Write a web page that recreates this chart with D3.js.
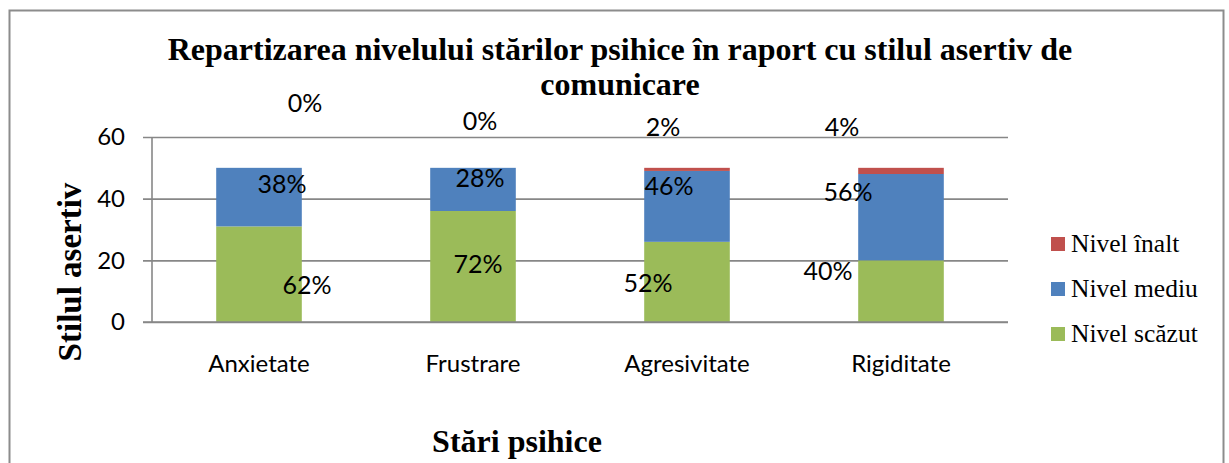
<!DOCTYPE html>
<html>
<head>
<meta charset="utf-8">
<script src="https://cdn.jsdelivr.net/npm/d3@7"></script>
<style>
  body { margin: 0; background: #fff; }
  svg { display: block; }
</style>
</head>
<body>
<div class="panel"></div>
<script>

const categories = ["Anxietate", "Frustrare", "Agresivitate", "Rigiditate"];
const nivelScazut = [31, 36, 26, 20];
const nivelMediu = [19, 14, 23, 28];
const nivelInalt = [0, 0, 1, 2];
const seriesNames = ["Nivel scăzut", "Nivel mediu", "Nivel înalt"];
const yTicks = [0, 20, 40, 60];
const titleLines = ["Repartizarea nivelului stărilor psihice în raport cu stilul asertiv de", "comunicare"];

drawChart();

function drawChart() {

    const width = 1229, height = 463;
    const colors = ["#9BBB59", "#4F81BD", "#C0504D"];
    const gridColor = "#878787";

    // data labels were dragged around by hand in the original, so nudge them
    // [dx, dy] per series (scăzut, mediu, înalt) per category
    const labelNudge = [
        [[48, 10], [5, -4], [-39, 0], [-73, -21]],
        [[23, -14], [7, -12], [-18, -21], [-53, -26]],
        [[46, -66], [7, -48], [-24, -43], [-59, -45]]
    ];

    const rows = categories.map((c, i) => ({
        cat: c,
        s0: nivelScazut[i],
        s1: nivelMediu[i],
        s2: nivelInalt[i]
    }));

    const stack = d3.stack().keys(["s0", "s1", "s2"]);
    const series = stack(rows);

    const svg = d3.select(".panel").append("svg")
        .attr("width", width)
        .attr("height", height);

    // chart border
    svg.append("rect")
        .attr("x", 9.5).attr("y", 10.5)
        .attr("width", 1214).attr("height", 480)
        .attr("fill", "none")
        .attr("stroke", "#8c8c8c")
        .attr("stroke-width", 2);

    const x = d3.scaleBand()
        .domain(categories)
        .range([152, 1008])
        .paddingInner(0.6)
        .paddingOuter(0.3);

    const y = d3.scaleLinear()
        .domain([0, 60])
        .range([322, 137]);

    // gridlines + y ticks
    const yAxis = d3.axisLeft(y)
        .tickValues(yTicks)
        .tickSize(-(1008 - 143))
        .tickPadding(18);

    const gy = svg.append("g")
        .attr("transform", "translate(143,0)")
        .call(yAxis);
    gy.select(".domain").remove();
    gy.selectAll(".tick line")
        .attr("stroke", gridColor)
        .attr("stroke-width", 1.6);
    gy.selectAll(".tick text")
        .attr("font-family", "Lato, sans-serif")
        .attr("font-size", 24)
        .attr("fill", "#000");

    svg.append("line")
        .attr("x1", 152).attr("x2", 152)
        .attr("y1", 137).attr("y2", 322)
        .attr("stroke", gridColor)
        .attr("stroke-width", 1.6);

    // bars
    svg.append("g")
        .selectAll("g")
        .data(series)
        .join("g")
        .attr("fill", (d, i) => colors[i])
        .selectAll("rect")
        .data(d => d)
        .join("rect")
        .attr("x", d => x(d.data.cat))
        .attr("y", d => y(d[1]))
        .attr("width", x.bandwidth())
        .attr("height", d => y(d[0]) - y(d[1]));

    // x axis labels
    const gx = svg.append("g")
        .attr("transform", "translate(0,322)")
        .call(d3.axisBottom(x).tickSize(0).tickPadding(33));
    gx.select(".domain").remove();
    gx.selectAll(".tick text")
        .attr("font-family", "Lato, sans-serif")
        .attr("font-size", 24)
        .attr("fill", "#000");

    // redraw zero line over bars
    svg.append("line")
        .attr("x1", 143).attr("x2", 1008)
        .attr("y1", y(0)).attr("y2", y(0))
        .attr("stroke", gridColor)
        .attr("stroke-width", 1.6);

    // data labels (share of the bar total)
    const pct = d3.format(".0%");
    series.forEach((s, si) => {
        svg.append("g")
            .selectAll("text")
            .data(s)
            .join("text")
            .attr("x", (d, ci) => x(d.data.cat) + x.bandwidth() / 2 + labelNudge[si][ci][0])
            .attr("y", (d, ci) => y((d[0] + d[1]) / 2) + labelNudge[si][ci][1])
            .attr("text-anchor", "middle")
            .attr("dominant-baseline", "central")
            .attr("font-family", "Lato, sans-serif")
            .attr("font-size", 25)
            .attr("fill", "#000")
            .text(d => pct((d[1] - d[0]) / (d.data.s0 + d.data.s1 + d.data.s2)));
    });

    // title
    svg.append("text")
        .attr("x", 620)
        .attr("y", 60)
        .attr("text-anchor", "middle")
        .attr("font-family", "Liberation Serif, Times New Roman, serif")
        .attr("font-weight", "bold")
        .attr("font-size", 32)
        .selectAll("tspan")
        .data(titleLines)
        .join("tspan")
        .attr("x", 620)
        .attr("dy", (d, i) => i ? 35 : 0)
        .text(d => d);

    // axis titles
    svg.append("text")
        .attr("transform", "translate(81,272) rotate(-90)")
        .attr("text-anchor", "middle")
        .attr("font-family", "Liberation Serif, Times New Roman, serif")
        .attr("font-weight", "bold")
        .attr("font-size", 33)
        .text("Stilul asertiv");

    svg.append("text")
        .attr("x", 517)
        .attr("y", 452)
        .attr("text-anchor", "middle")
        .attr("font-family", "Liberation Serif, Times New Roman, serif")
        .attr("font-weight", "bold")
        .attr("font-size", 32)
        .text("Stări psihice");

    // legend, top series first
    const legend = svg.append("g")
        .selectAll("g")
        .data(seriesNames.map((n, i) => ({ name: n, color: colors[i] })).reverse())
        .join("g")
        .attr("transform", (d, i) => `translate(1051,${237 + i * 45})`);

    legend.append("rect")
        .attr("width", 14)
        .attr("height", 14)
        .attr("fill", d => d.color);

    legend.append("text")
        .attr("x", 20)
        .attr("y", 15)
        .attr("font-family", "Liberation Serif, Times New Roman, serif")
        .attr("font-size", 25.5)
        .attr("fill", "#000")
        .text(d => d.name);
}
</script>
</body>
</html>
